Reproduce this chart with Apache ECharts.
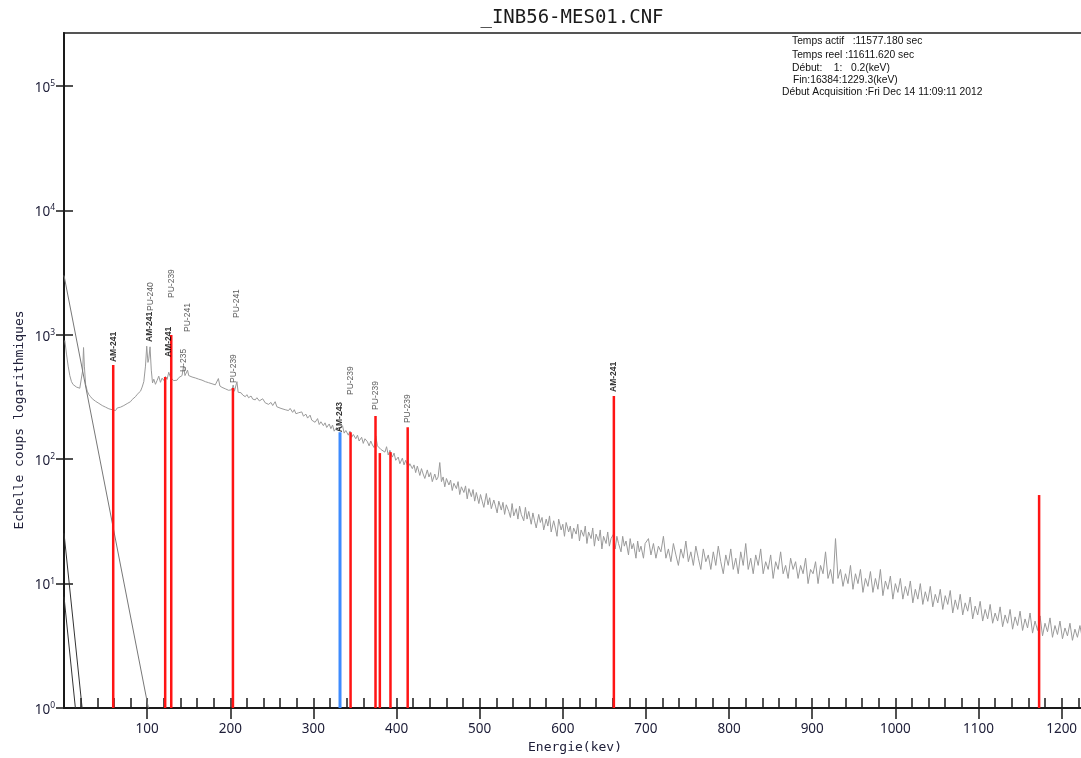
<!DOCTYPE html>
<html><head><meta charset="utf-8">
<script src="https://cdn.jsdelivr.net/npm/echarts@6/dist/echarts.min.js"></script>
<style>html,body{margin:0;padding:0;background:#fff}#c{width:1081px;height:758px}</style>
</head><body><div id="c"></div>
<script>
const chartTitle = '_INB56-MES01.CNF';
const xName = 'Energie(kev)';
const yName = 'Echelle coups logarithmiques';
const yTickValues = [1, 10, 100, 1000, 10000, 100000];
const infoLines = [
  'Temps actif   :11577.180 sec',
  'Temps reel :11611.620 sec',
  'Début:    1:   0.2(keV)',
  'Fin:16384:1229.3(keV)',
  'Début Acquisition :Fri Dec 14 11:09:11 2012'
];

// measured spectrum [keV, counts]
const spectrum = [
[1,900],[3,700],[5,560],[7,470],[9,420],[11,398],[13,386],[15,380],[17,376],[19,372],[21,385],[22.5,520],[23.5,790],[24.5,560],[26,400],[28,352],[30,330],[32,318],[34,306],[36,300],[38,292],[40,288],[42,281],[44,275],[46,270],[48,266],[50,262],[52,258],[54,254],[56,262],[58,250],[60,252],[62,246],[64,258],[66,250],[68,262],[70,254],[72,270],[74,262],[76,280],[78,272],[80,290],[82,302],[84,296],[86,318],[88,332],[90,326],[92,352],[94,380],[96,420],[98,560],[99.5,810],[101,600],[102,640],[103.5,800],[105,520],[106.5,410],[108,440],[110,400],
[112,430],[114,465],[116,415],[118,448],[120,430],[122,462],[124,438],[126,500],[128,455],[130,442],[132,428],[134,440],[136,432],[138,452],[140,444],[142,470],[143.8,560],[145.5,470],[147,462],[148.6,520],[150,470],[152,480],[154,458],[156,468],[158,450],[160,456],[162,440],[164,448],[166,432],[168,436],[170,420],[172,428],[174,412],[176,418],[178,404],[180,410],[182,396],[184,400],[185.7,445],[187.5,388],[190,378],[192,382],[194,368],[196,372],[198,358],[200,352],[202,362],[203.5,395],[205,352],[206.5,360],[208,420],[209.5,345],[211,338],[213,342],[215,328],
[218,318],[220,330],[222,312],[225,322],[227,304],[230,300],[232,312],[235,294],[237,290],[239,306],[242,284],[244,292],[246,276],[249,286],[251,270],[254,290],[256,264],[258,270],[261,256],[263,262],[266,250],[268,258],[270,246],[272,256],[275,238],[277,250],[279,232],[282,236],[284,228],[286,240],[288,222],[291,230],[293,214],[296,226],[298,206],[300,210],[302,198],[305,212],[307,190],[309,200],[312,186],[314,196],[316,180],[319,192],[321,176],[323,188],[325,168],[328,180],[330,170],[332,166],[335,186],[337,162],[339,170],[342,156],[344,168],[346,150],[348,158],[351,146],[353,156],[355,140],[358,150],[360,134],[362,146],[365,138],[367,128],[369,140],[371,130],[373,124],[375,154],[377,128],[379,132],[381,120],[383,124],[386,114],[388,126],[390,108],[392,118],[395,104],[397,112],[399,98],[402,104],[404,92],[407,102],[409,90],[411,98],[414,86],[416,92],
[419,84],[421,90],[423,78],[425,88],[428,74],[430,84],[432,76],[434,70],[437,82],[439,72],[441,78],[443,66],[446,76],[448,68],[450,72],[452,94],[454,66],[456,72],[458,60],[460,70],[463,62],[465,68],[467,56],[469,64],[472,58],[474,66],[476,52],[478,60],[481,54],[483,61],[485,48],[487,58],[490,50],[492,57],[494,46],[496,54],[499,44],[501,52],[503,46],[505,41],[508,53],[510,43],[512,49],[514,40],[517,47],[519,42],[521,37],[523,46],[526,39],[528,45],[530,36],[532,43],[535,38],[537,34],[539,44],[541,35],[544,40],[546,33],[548,42],[550,36],[553,32],[555,41],[557,33],[559,38],[562,30],[564,37],[566,32],[568,28],[571,36],[573,31],[575,34],[577,27],[580,33],[582,29],[584,35],[586,26],[589,32],[591,28],[593,24],[595,33],[598,27],[600,30],[602,24],[604,31],[607,26],[609,29],[611,23],[613,28],[616,25],[618,30],[620,22],[622,27],[625,24],[627,29],[629,21],[631,26],[634,23],[636,28],[638,20],[640,25],[643,22],[645,27],[647,19],[649,24],[652,21],[654,26],[656,20],[658,23],[661,25],[663,19],[665,24],[667,21],[670,18],[672,24],[674,20],[676,22],[679,17],[681,23],[683,19],[685,21],[688,16],[690,22],[692,18],[694,20],[697,16],[699,21],
[703,23],[706,17],[709,21],[712,16],[715,20],[718,18],[721,24],[724,16],[727,19],[730,15],[733,21],[736,17],[739,14],[742,19],[745,16],[748,22],[751,15],[754,18],[757,14],[760,20],[763,16],[766,13],[769,19],[772,15],[775,17],[778,13],[781,18],[784,14],[787,20],[790,15],[793,12],[796,17],[799,14],[802,19],[805,13],[808,16],[811,12],[814,18],[817,14],[820,21],[823,13],[826,16],[829,12],[832,17],[835,14],[838,19],[841,12],[844,15],[847,13],[850,17],[853,11],[856,15],[859,13],[862,18],[865,12],[868,14],[871,11],[874,16],[877,13],[880,15],[883,11],[886,14],[889,12],[892,16],[895,10],[898,13],[901,12],[904,15],[907,10],[910,14],[913,12],[916,18],[919,11],[922,13],[925,10],[928,23],[931,11],[934,13],[937,9.5],[940,12],[943,10],[946,14],[949,9],[952,12],[955,10],[958,13],[961,8.5],[964,11],[967,9.5],[970,12.5],[973,8.5],[976,11],[979,9],[982,13],[985,8],[988,10.5],[991,9],[994,11.5],[997,7.5],[1000,10],[1003,8.5],[1006,11],[1009,7.5],[1012,9.5],[1015,8],[1018,10.5],[1021,7],[1024,9],[1027,7.5],[1030,10],[1033,6.8],[1036,8.6],[1039,7.2],[1042,9.5],[1045,6.5],[1048,8.2],[1051,7],[1054,9],[1057,6.2],[1060,8],[1063,6.8],[1066,8.8],[1069,5.8],[1072,7.4],[1075,6.2],[1078,8.2],[1081,5.6],[1084,7],[1087,6],[1090,7.8],[1093,5.2],[1096,6.6],[1099,5.6],[1102,7.2],[1105,5],[1108,6.2],[1111,5.2],[1114,6.8],[1117,4.8],[1120,5.8],[1123,5],[1126,6.5],[1129,4.5],[1132,5.6],[1135,4.8],[1138,6.2],[1141,4.3],[1144,5.4],[1147,4.6],[1150,6],[1153,4.2],[1156,5.2],[1159,4.4],[1162,5.8],[1165,4],[1168,5],[1171,4.2],[1174,5.5],[1177,3.8],[1180,4.8],[1183,4.1],[1186,5.3],[1189,3.7],[1192,4.6],[1195,3.9],[1198,5],[1201,3.6],[1204,4.4],[1207,3.8],[1210,4.8],[1213,3.5],[1216,4.3],[1219,3.7],[1222,4.6],[1225,3.6],[1228,4.2]
];

// fitted curves (straight on log scale)
const fitCurveA = [[0, 3000], [101.5, 1]];
const fitCurveB = [[0, 25.4], [21.8, 1]];
const fitCurveC = [[0, 7.85], [13.7, 1]];

// identified peaks
const redPeakKeV    = [59.5, 122.0, 129.3, 203.5, 345.0, 375.0, 380.2, 393.0, 413.7, 661.7, 1173.2];
const redPeakCounts = [572,  458,   996,   373,   165,   222,   112,   114,   181,   322,   51.5];
const bluePeakKeV    = [332.0];
const bluePeakCounts = [165];

// peak annotations
const labelNames  = ['AM-241','AM-241','PU-240','AM-241','PU-239','U-235','PU-241','PU-239','PU-241','AM-243','PU-239','PU-239','PU-239','AM-241'];
const labelKeV    = [59.5,    103.0,   104.4,   125.3,   129.3,   143.8,  148.6,   203.5,   208.0,   332.0,   345.0,   375.0,   413.7,   661.7];
const labelCounts = [604,     875,     1553,    663,     1977,    502,    1054,    410,     1365,    165,     328,     249,     195,     347];

const chart = echarts.init(document.getElementById('c'), null, {renderer: 'canvas'});

const tickColor = '#1a1a1a';
const labelColor = '#20203a';

function yFmt(v) {
  const e = Math.log10(v);
  const r = Math.round(e);
  if (Math.abs(e - r) > 1e-6) return '';
  return '{b|10}{s|' + r + '}';
}

const xMax = 1229.3;
const yMax = 266700;

const option = {
  animation: false,
  backgroundColor: '#fff',
  grid: {left: 64, top: 33, width: 1022, height: 675, show: true, borderColor: '#555', borderWidth: 2, outerBoundsMode: 'none', containLabel: false},
  xAxis: [
    {
      type: 'value', min: 0, max: xMax, interval: 100,
      name: xName, nameLocation: 'middle', nameGap: 31,
      nameTextStyle: {fontFamily: '"DejaVu Sans Mono"', fontSize: 13, color: labelColor},
      axisLine: {show: true, lineStyle: {color: tickColor, width: 2}},
      axisTick: {show: true, inside: false, length: 11, lineStyle: {color: tickColor, width: 1.5}},
      axisLabel: {show: true, margin: 14, color: labelColor, fontFamily: '"Noto Sans"', fontSize: 13.5, showMinLabel: false, showMaxLabel: false, formatter: v => String(v)},
      splitLine: {show: false}
    },
    {
      type: 'value', min: 0, max: xMax, interval: 20, position: 'bottom',
      axisLine: {show: false},
      axisTick: {show: true, inside: true, length: 10, lineStyle: {color: tickColor, width: 1.5}},
      axisLabel: {show: false},
      splitLine: {show: false}
    }
  ],
  yAxis: [
    {
      type: 'log', logBase: 10, min: 1, max: yMax,
      axisLine: {show: true, lineStyle: {color: tickColor, width: 2}},
      axisTick: {show: true, inside: false, length: 8, lineStyle: {color: tickColor, width: 1.5}, customValues: yTickValues},
      axisLabel: {
        show: true, margin: 9, formatter: yFmt, customValues: yTickValues,
        rich: {
          b: {fontFamily: '"Noto Sans"', fontSize: 13.5, color: labelColor, verticalAlign: 'bottom', lineHeight: 18},
          s: {fontFamily: '"Noto Sans"', fontSize: 8.5, color: labelColor, verticalAlign: 'bottom', lineHeight: 18, padding: [0, 0, 7, 0]}
        }
      },
      splitLine: {show: false}
    },
    {
      type: 'log', logBase: 10, min: 1, max: yMax, position: 'left',
      axisLine: {show: false},
      axisTick: {show: true, inside: true, length: 9, lineStyle: {color: tickColor, width: 1.5}, customValues: yTickValues},
      axisLabel: {show: false},
      splitLine: {show: false}
    }
  ],
  series: [
    {
      name: 'spectre', type: 'line', xAxisIndex: 0, yAxisIndex: 0,
      data: spectrum, showSymbol: false, symbol: 'none',
      lineStyle: {color: '#9a9a9a', width: 1}, z: 2
    },
    {type: 'line', data: fitCurveA, symbol: 'none', lineStyle: {color: '#777', width: 1}, z: 2},
    {type: 'line', data: fitCurveB, symbol: 'none', lineStyle: {color: '#333', width: 1}, z: 2},
    {type: 'line', data: fitCurveC, symbol: 'none', lineStyle: {color: '#333', width: 1}, z: 2},
    {
      name: 'pics', type: 'bar', xAxisIndex: 0, yAxisIndex: 0,
      data: redPeakKeV.map((k, i) => [k, redPeakCounts[i]]),
      barWidth: 2.5, barGap: '-100%', itemStyle: {color: '#ff1414'}, z: 3
    },
    {
      name: 'pic bleu', type: 'bar', xAxisIndex: 0, yAxisIndex: 0,
      data: bluePeakKeV.map((k, i) => [k, bluePeakCounts[i]]),
      barWidth: 3, barGap: '-100%', itemStyle: {color: '#3d8bff'}, z: 3
    },
    {
      name: 'labels', type: 'scatter', xAxisIndex: 0, yAxisIndex: 0,
      data: labelKeV.map((k, i) => ({value: [k, labelCounts[i]], name: labelNames[i]})),
      symbolSize: 1, itemStyle: {color: 'rgba(0,0,0,0)'}, z: 4,
      label: {
        show: true, position: 'inside', rotate: 90, align: 'left', verticalAlign: 'middle', offset: [0, 0],
        formatter: p => (p.name.indexOf('AM') === 0 ? '{a|' : '{p|') + p.name + '}',
        rich: {
          a: {fontFamily: '"Liberation Sans"', fontSize: 8.5, fontWeight: 'bold', color: '#000'},
          p: {fontFamily: '"Liberation Sans"', fontSize: 8.5, color: '#333'}
        }
      }
    }
  ],
  graphic: [
    {type: 'text', x: 572, y: 18, style: {text: chartTitle, font: '19px "DejaVu Sans Mono"', fill: '#1a1a1a', align: 'center', verticalAlign: 'middle'}},
    {type: 'text', x: 20, y: 420, rotation: Math.PI / 2, style: {text: yName, font: '13px "DejaVu Sans Mono"', fill: labelColor, align: 'center', verticalAlign: 'middle'}},
    {type: 'text', x: 792, y: 41, style: {text: infoLines[0], font: '10.3px "Liberation Sans"', fill: '#111', verticalAlign: 'middle'}},
    {type: 'text', x: 792, y: 55, style: {text: infoLines[1], font: '10.3px "Liberation Sans"', fill: '#111', verticalAlign: 'middle'}},
    {type: 'text', x: 792, y: 68, style: {text: infoLines[2], font: '10.3px "Liberation Sans"', fill: '#111', verticalAlign: 'middle'}},
    {type: 'text', x: 793, y: 80, style: {text: infoLines[3], font: '10.3px "Liberation Sans"', fill: '#111', verticalAlign: 'middle'}},
    {type: 'text', x: 782, y: 92, style: {text: infoLines[4], font: '10.3px "Liberation Sans"', fill: '#111', verticalAlign: 'middle'}}
  ]
};
chart.setOption(option);
</script>
</body></html>
